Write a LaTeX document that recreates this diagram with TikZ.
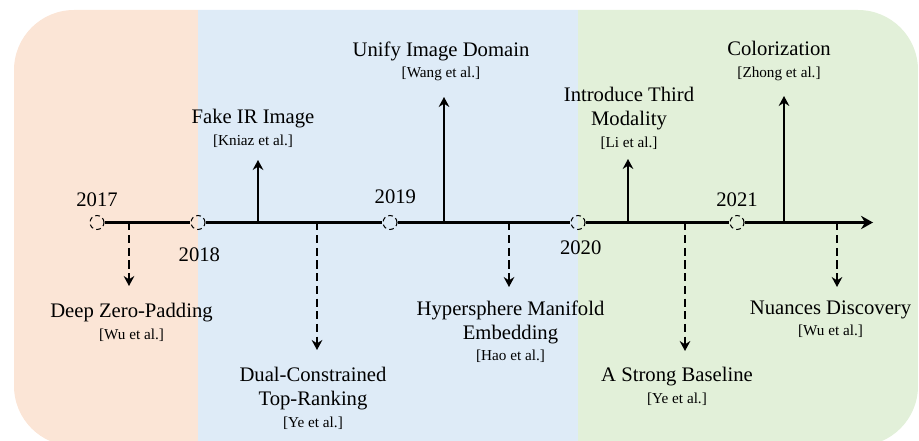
\documentclass[tikz,border=0pt]{standalone}
\usepackage{fontspec}
\setmainfont{Liberation Serif}
\usetikzlibrary{positioning,arrows.meta}
\definecolor{peach}{HTML}{FBE5D6}
\definecolor{skyblue}{HTML}{DEEBF7}
\definecolor{sage}{HTML}{E2F0D9}
\newcommand{\refs}[1]{{\fontsize{11.4}{13}\selectfont[#1]}}

\begin{document}
\begin{tikzpicture}[
  x=0.75pt, y=-0.75pt,
  font=\fontsize{15.5}{18}\selectfont,
  year/.style={draw, circle, minimum size=10.5pt, inner sep=0pt, line width=0.8pt, dash pattern=on 3.5pt off 2.5pt},
  yr/.style={inner sep=1pt},
  axis/.style={line width=1.8pt},
  up/.style={-{Stealth[length=7.5pt, width=8pt, inset=2.5pt]}, line width=1.6pt},
  down/.style={up, line width=1.8pt, dash pattern=on 6pt off 3.5pt},
  ev/.style={align=center, inner sep=1pt, anchor=north}
]
\useasboundingbox (0,0) rectangle (919,441);

% ---------------- background panels ----------------
\begin{scope}
  \clip[rounded corners=45pt] (14,10) rectangle (918,446);
  \fill[peach] (0,0) rectangle (198,460);
  \fill[skyblue] (198,0) rectangle (578,460);
  \fill[sage] (578,0) rectangle (930,460);
\end{scope}

% ---------------- years on the axis ----------------
\node[year] (y17) at (97,222.5) {};
\node[year] (y18) at (198,222.5) {};
\node[year] (y19) at (390,222.5) {};
\node[year] (y20) at (578,222.5) {};
\node[year] (y21) at (737,222.5) {};
\coordinate (axisEnd) at (873,222.5);

\node[yr, above=5pt of y17] (l17) {2017};
\node[yr, below=12pt of y18, xshift=1pt] (l18) {2018};
\node[yr, above=7pt of y19, xshift=4pt] (l19) {2019};
\node[yr, below=7pt of y20, xshift=2pt] (l20) {2020};
\node[yr, above=5pt of y21] (l21) {2021};

\draw[axis] (y17.east) -- (y18.west);
\draw[axis] (y18.east) -- (y19.west);
\draw[axis] (y19.east) -- (y20.west);
\draw[axis] (y20.east) -- (y21.west);
\draw[axis, -{Stealth[length=9pt, width=10pt, inset=3pt]}] (y21.east) -- (axisEnd);

% ---------------- methods above the axis ----------------
\coordinate (fakeB) at (258,222.5);  \coordinate (fakeT) at (258,160);
\coordinate (unifyB) at (444,222.5); \coordinate (unifyT) at (444,97);
\coordinate (thirdB) at (628,222.5); \coordinate (thirdT) at (628,159);
\coordinate (colorB) at (784,222.5); \coordinate (colorT) at (784,96);

\draw[up] (fakeB) -- (fakeT);
\draw[up] (unifyB) -- (unifyT);
\draw[up] (thirdB) -- (thirdT);
\draw[up] (colorB) -- (colorT);

\node[ev] (fake) at (253,108) {Fake IR Image\\[-2pt]\refs{Kniaz et al.}};
\node[ev] (unify) at (441,40) {Unify Image Domain\\[-2pt]\refs{Wang et al.}};
\node[ev] (third) at (629,86) {Introduce Third\\Modality\\[-2pt]\refs{Li et al.}};
\node[ev] (color) at (779,40) {Colorization\\[-2pt]\refs{Zhong et al.}};

% ---------------- methods below the axis ----------------
\coordinate (zeroB) at (129,222.5);   \coordinate (zeroT) at (129,286);
\coordinate (dualB) at (317,222.5);   \coordinate (dualT) at (317,350);
\coordinate (hyperB) at (509,222.5);  \coordinate (hyperT) at (509,287);
\coordinate (strongB) at (685,222.5); \coordinate (strongT) at (685,351);
\coordinate (nuanceB) at (837,222.5); \coordinate (nuanceT) at (837,287);

\draw[down] (zeroB) -- (zeroT);
\draw[down] (dualB) -- (dualT);
\draw[down] (hyperB) -- (hyperT);
\draw[down] (strongB) -- (strongT);
\draw[down] (nuanceB) -- (nuanceT);

\node[ev] (zero) at (131.5,302) {Deep Zero-Padding\\[-2pt]\refs{Wu et al.}};
\node[ev] (dual) at (313,366) {Dual-Constrained\\Top-Ranking\\[-2pt]\refs{Ye et al.}};
\node[ev] (hyper) at (510.5,299) {Hypersphere Manifold\\Embedding\\[-2pt]\refs{Hao et al.}};
\node[ev] (strong) at (677,366) {A Strong Baseline\\[-2pt]\refs{Ye et al.}};
\node[ev] (nuance) at (830.5,299) {Nuances Discovery\\[-2pt]\refs{Wu et al.}};

\end{tikzpicture}
\end{document}
